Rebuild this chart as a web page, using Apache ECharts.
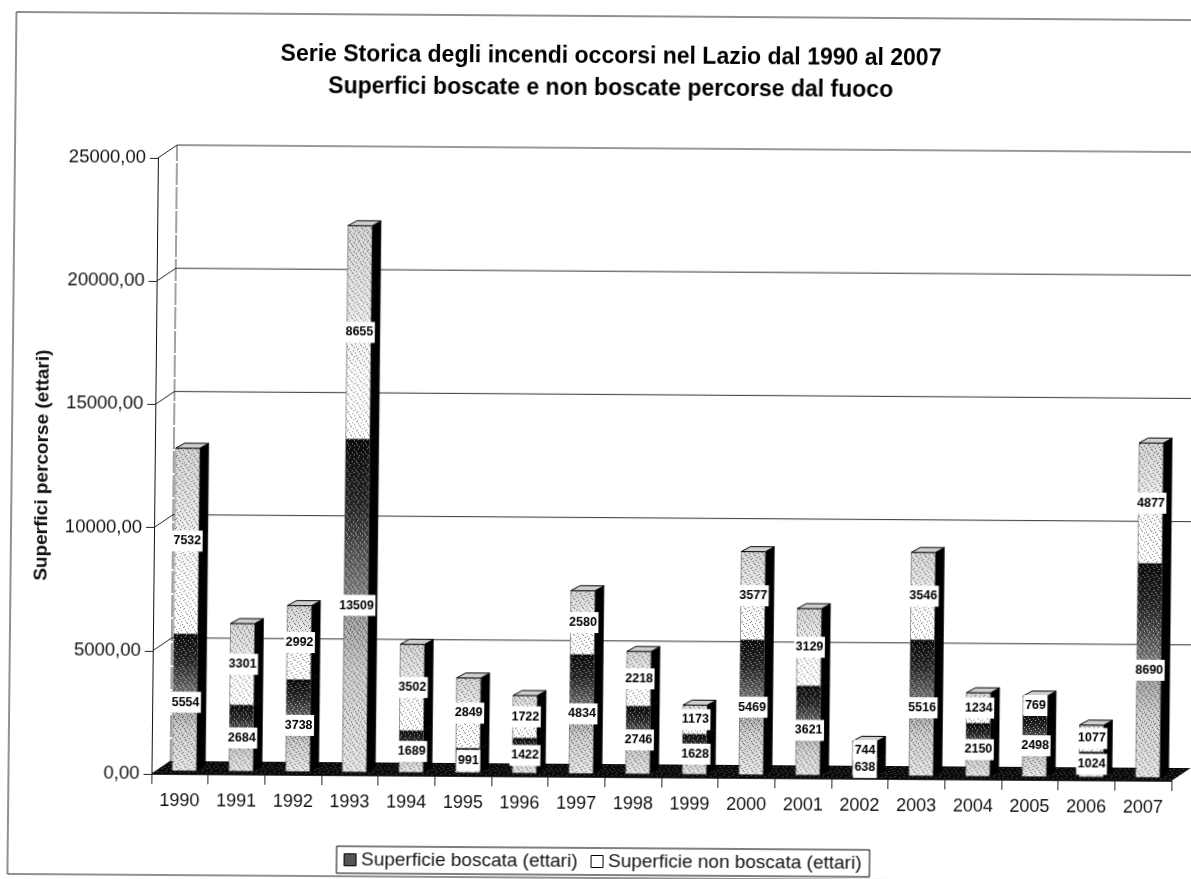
<!DOCTYPE html>
<html><head><meta charset="utf-8">
<style>
html,body{margin:0;padding:0;background:#fff;overflow:hidden;width:1191px;height:879px}
#c{position:absolute;left:0;top:0;width:1240px;height:900px;transform-origin:595px 440px;transform:matrix(1,0.0069,-0.0105,1,0,0)}
</style>
<script src="https://cdn.jsdelivr.net/npm/echarts@6/dist/echarts.min.js"></script>
</head><body><div id="c"></div>
<script>
const titleText = "Serie Storica degli incendi occorsi nel Lazio dal 1990 al 2007\nSuperfici boscate e non boscate percorse dal fuoco";
const yAxisName = "Superfici percorse (ettari)";
const years = ["1990","1991","1992","1993","1994","1995","1996","1997","1998","1999","2000","2001","2002","2003","2004","2005","2006","2007"];
const boscata = [5554,2684,3738,13509,1689,991,1422,4834,2746,1628,5469,3621,638,5516,2150,2498,1024,8690];
const nonBoscata = [7532,3301,2992,8655,3502,2849,1722,2580,2218,1173,3577,3129,744,3546,1234,769,1077,4877];
const yTicks = [0,5000,10000,15000,20000,25000];
const nameB = "Superficie boscata (ettari)";
const nameN = "Superficie non boscata (ettari)";

const FONT = '"Liberation Sans", Arial, sans-serif';
const DEPTH_X = 19, DEPTH_Y = -13;
const BAR_W = 24, BAR_DX = 4.5, BAR_DY = -3.5, SIDE_X = 9, SIDE_Y = -5;

// fixed halftone tile: [x, y] of dots in a 9x9 cell
const darkDots = [[1,1],[5,0],[3,3],[7,2],[0,5],[4,6],[8,4],[2,7],[6,8]];
const lightDots = [[3,1],[7,0],[1,4],[5,3],[8,7],[3,6],[6,5]];
function tile(dark, light){
  const n = 9, cv = document.createElement('canvas');
  cv.width = cv.height = n;
  const g = cv.getContext('2d');
  g.fillStyle = 'rgba(0,0,0,'+dark+')';
  darkDots.forEach(p=>g.fillRect(p[0],p[1],1,1));
  g.fillStyle = 'rgba(255,255,255,'+light+')';
  lightDots.forEach(p=>g.fillRect(p[0],p[1],1,1));
  return cv;
}
const stipple = {image:tile(0.5,0.6),repeat:'repeat'};
const speckle = {image:tile(0,0.35),repeat:'repeat'};

function vgrad(stops){ return {type:'linear',x:0,y:0,x2:0,y2:1,colorStops:stops}; }
const gradB = vgrad([{offset:0,color:'#0a0a0a'},{offset:0.2,color:'#2a2a2a'},{offset:0.5,color:'#8f8f8f'},{offset:0.7,color:'#c8c8c8'},{offset:1,color:'#e4e4e4'}]);
const gradN = vgrad([{offset:0,color:'#cfcfcf'},{offset:0.4,color:'#e8e8e8'},{offset:0.7,color:'#fcfcfc'},{offset:1,color:'#ffffff'}]);

function makeBar(fill, isTop){
  return function(params, api){
    const c = api.value(0), from = api.value(1), to = api.value(2);
    const cx = api.coord([c,0])[0] + BAR_DX;
    const l = cx - BAR_W/2, r = cx + BAR_W/2;
    const yb = api.coord([c,from])[1] + BAR_DY, yt = api.coord([c,to])[1] + BAR_DY;
    const kids = [
      {type:'polygon',shape:{points:[[r,yb],[r+SIDE_X,yb+SIDE_Y],[r+SIDE_X,yt+SIDE_Y],[r,yt]]},style:{fill:'#000',stroke:'#000',lineWidth:0.5}},
      {type:'rect',shape:{x:l,y:yt,width:BAR_W,height:yb-yt},style:{fill:fill,stroke:'#555',lineWidth:0.6}},
      {type:'rect',shape:{x:l,y:yt,width:BAR_W,height:yb-yt},style:{fill:stipple}}
    ];
    if(isTop){
      kids.push({type:'polygon',shape:{points:[[l,yt],[l+SIDE_X,yt+SIDE_Y],[r+SIDE_X,yt+SIDE_Y],[r,yt]]},style:{fill:'#cfcfcf',stroke:'#000',lineWidth:1}});
    }
    kids.push({type:'text',z2:100,style:{
      x:cx+0.5,y:(yb+yt)/2,text:String(to-from),align:'center',verticalAlign:'middle',
      font:'bold 12.5px '+FONT,fill:'#000',backgroundColor:'#fff',padding:[4,1.5,4,1.5]
    }});
    return {type:'group',children:kids};
  };
}
const dataB = years.map((y,i)=>[i,0,boscata[i]]);
const dataN = years.map((y,i)=>[i,boscata[i],boscata[i]+nonBoscata[i]]);

const chart = echarts.init(document.getElementById('c'),null,{renderer:'canvas'});
chart.setOption({
  animation:false,
  backgroundColor:'#fff',
  textStyle:{fontFamily:FONT},
  title:{text:titleText,left:602,top:36,textAlign:'center',
    textStyle:{fontFamily:FONT,fontSize:23,fontWeight:'bold',color:'#000',lineHeight:32}},
  legend:{left:341,top:848,orient:'horizontal',padding:[4,8,4,7],itemGap:13,itemWidth:12,itemHeight:12,
    borderColor:'#000',borderWidth:1,backgroundColor:'#fff',
    textStyle:{fontFamily:FONT,fontSize:19,color:'#111'},
    data:[{name:nameB,icon:'rect',itemStyle:{color:'#555',borderColor:'#000',borderWidth:1}},
          {name:nameN,icon:'rect',itemStyle:{color:'#fff',borderColor:'#000',borderWidth:1}}]},
  grid:{left:155,top:161,width:1020,height:616,containLabel:false},
  xAxis:{type:'category',data:years,
    axisLine:{show:true,lineStyle:{color:'#333',width:1}},
    axisTick:{show:true,length:10,alignWithLabel:false,lineStyle:{color:'#222'}},
    axisLabel:{interval:0,margin:18,fontFamily:FONT,fontSize:18,color:'#111'}},
  yAxis:{type:'value',min:0,max:25000,interval:5000,name:yAxisName,nameLocation:'middle',nameGap:103,
    nameTextStyle:{fontFamily:FONT,fontSize:19,fontWeight:'bold',color:'#111'},
    axisLine:{show:true,lineStyle:{color:'#111',width:1}},
    axisTick:{show:true,length:8,lineStyle:{color:'#222'}},
    splitLine:{show:false},
    axisLabel:{margin:12,fontFamily:FONT,fontSize:18.5,color:'#111',formatter:v=>v.toFixed(2).replace('.',',')}},
  series:[
    {type:'custom',name:'walls',silent:true,z:1,legendHoverLink:false,
     data:yTicks.map(v=>[0,v]),encode:{x:0,y:1},
     renderItem(params,api){
       const v=api.value(1), cs=params.coordSys, y=api.coord([0,v])[1], x=cs.x;
       const kids=[
         {type:'line',shape:{x1:x,y1:y,x2:x+DEPTH_X,y2:y+DEPTH_Y},style:{stroke:'#222',lineWidth:1}},
       ];
       if(v>0) kids.push({type:'line',shape:{x1:x+DEPTH_X,y1:y+DEPTH_Y,x2:x+cs.width+200,y2:y+DEPTH_Y},style:{stroke:'#333',lineWidth:1}});
       if(v===0) kids.push(
         {type:'line',shape:{x1:x+DEPTH_X,y1:y+DEPTH_Y,x2:x+DEPTH_X,y2:cs.y+DEPTH_Y},style:{stroke:'#444',lineWidth:1,lineDash:[22,2]}},
         {type:'polygon',shape:{points:[[x,y],[x+DEPTH_X,y+DEPTH_Y],[x+cs.width+DEPTH_X,y+DEPTH_Y],[x+cs.width,y]]},style:{fill:'#0a0a0a'}},
         {type:'polygon',shape:{points:[[x,y],[x+DEPTH_X,y+DEPTH_Y],[x+cs.width+DEPTH_X,y+DEPTH_Y],[x+cs.width,y]]},style:{fill:speckle}});
       return {type:'group',children:kids};
     }},
    {type:'custom',name:nameB,z:2,data:dataB,encode:{x:0,y:[1,2]},itemStyle:{color:'#555'},renderItem:makeBar(gradB,false)},
    {type:'custom',name:nameN,z:2,data:dataN,encode:{x:0,y:[1,2]},itemStyle:{color:'#fff'},renderItem:makeBar(gradN,true)}
  ],
  graphic:[{type:'rect',silent:true,z:-1,shape:{x:12,y:16,width:1400,height:862},style:{fill:'none',stroke:'#222',lineWidth:1}}]
});
</script></body></html>
